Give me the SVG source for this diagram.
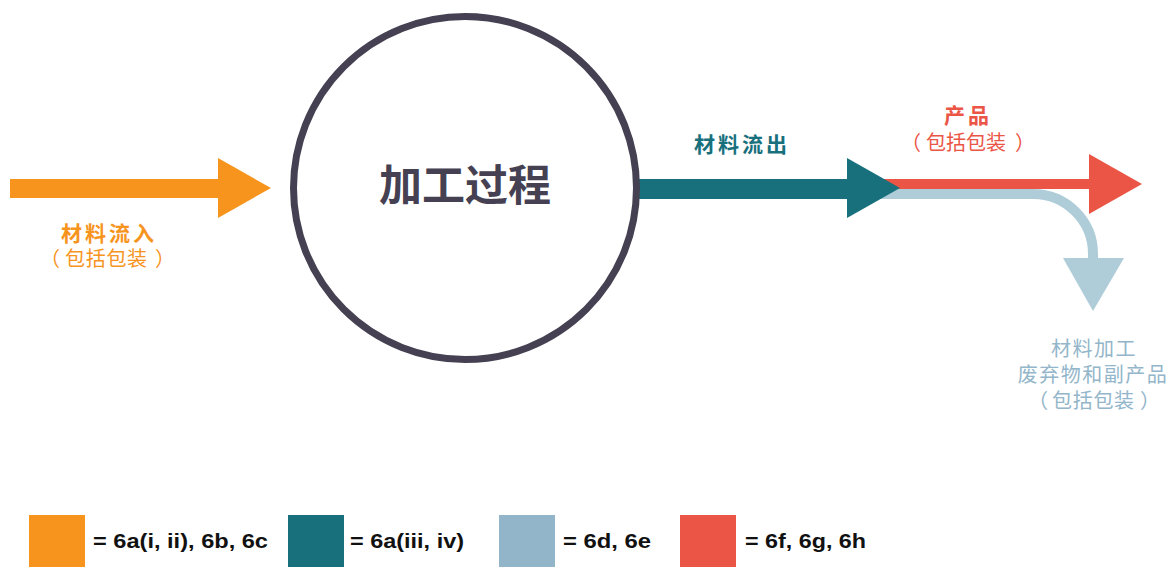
<svg xmlns="http://www.w3.org/2000/svg" width="1169" height="567" viewBox="0 0 1169 567">
<style>
.cjk{font-family:"Noto Sans CJK SC","Noto Sans",sans-serif;text-anchor:middle}
.pl{font-family:"Noto Sans CJK SC","Noto Sans",sans-serif;text-anchor:start;font-weight:400;font-size:20px}
.b{font-weight:700}
.r{font-weight:400}
.or{fill:#f7941d}
.te{fill:#18707d}
.rd{fill:#eb5545}
.lb{fill:#aecdd9}
.lbt{fill:#93b6ca}
.leg{font-family:"Liberation Sans",Arial,sans-serif;font-weight:700;font-size:20px;fill:#111111}
</style>
<rect width="1169" height="567" fill="#ffffff"/>
<g id="connectors">
  <g id="arrow-in">
    <rect class="or" x="10" y="179" width="210" height="19"/>
    <polygon class="or" points="218,158 271,188 218,218"/>
  </g>
  <g id="arrow-waste">
    <path d="M876 194 H1033 A60 60 0 0 1 1093 254 V262" fill="none" stroke="#aecdd9" stroke-width="10"/>
    <polygon class="lb" points="1063,258 1124,258 1093,311"/>
  </g>
  <g id="arrow-product">
    <rect class="rd" x="876" y="179" width="215" height="10"/>
    <polygon class="rd" points="1089,154 1142,184 1089,214"/>
  </g>
  <g id="arrow-out">
    <rect class="te" x="636" y="179" width="213" height="20"/>
    <polygon class="te" points="847,158 900,188 847,218"/>
  </g>
</g>
<g id="process">
  <circle cx="465" cy="188" r="171.5" fill="#ffffff" stroke="#454152" stroke-width="7"/>
  <text class="cjk b" x="465" y="201" font-size="43" fill="#454152">加工过程</text>
</g>
<g id="label-in">
  <text class="cjk b or" x="109" y="241" font-size="21" letter-spacing="3">材料流入</text>
  <text class="pl or" y="266"><tspan x="40">（</tspan><tspan x="65" letter-spacing="0.7">包括包装</tspan><tspan x="155">）</tspan></text>
</g>
<g id="label-out">
  <text class="cjk b te" x="742" y="152" font-size="21" letter-spacing="3">材料流出</text>
</g>
<g id="label-product">
  <text class="cjk b rd" x="968" y="123" font-size="21" letter-spacing="3">产品</text>
  <text class="pl rd" y="150"><tspan x="901">（</tspan><tspan x="926" letter-spacing="0">包括包装</tspan><tspan x="1015">）</tspan></text>
</g>
<g id="label-waste">
  <text class="cjk r lbt" x="1094" y="356" font-size="20" letter-spacing="1.5">材料加工</text>
  <text class="cjk r lbt" x="1093" y="382" font-size="20" letter-spacing="1.5">废弃物和副产品</text>
  <text class="pl lbt" y="408"><tspan x="1028">（</tspan><tspan x="1052" letter-spacing="0.7">包括包装</tspan><tspan x="1140">）</tspan></text>
</g>
<g id="legend">
  <g id="legend-orange">
    <rect x="29" y="515" width="56" height="52" fill="#f7941d"/>
    <text class="leg" x="93" y="548" textLength="175" lengthAdjust="spacingAndGlyphs">= 6a(i, ii), 6b, 6c</text>
  </g>
  <g id="legend-teal">
    <rect x="288" y="515" width="56" height="52" fill="#18707d"/>
    <text class="leg" x="350" y="548" textLength="114" lengthAdjust="spacingAndGlyphs">= 6a(iii, iv)</text>
  </g>
  <g id="legend-lightblue">
    <rect x="499" y="515" width="56" height="52" fill="#93b5c9"/>
    <text class="leg" x="563" y="548" textLength="88" lengthAdjust="spacingAndGlyphs">= 6d, 6e</text>
  </g>
  <g id="legend-red">
    <rect x="680" y="515" width="56" height="52" fill="#eb5545"/>
    <text class="leg" x="745" y="548" textLength="121" lengthAdjust="spacingAndGlyphs">= 6f, 6g, 6h</text>
  </g>
</g>
</svg>
